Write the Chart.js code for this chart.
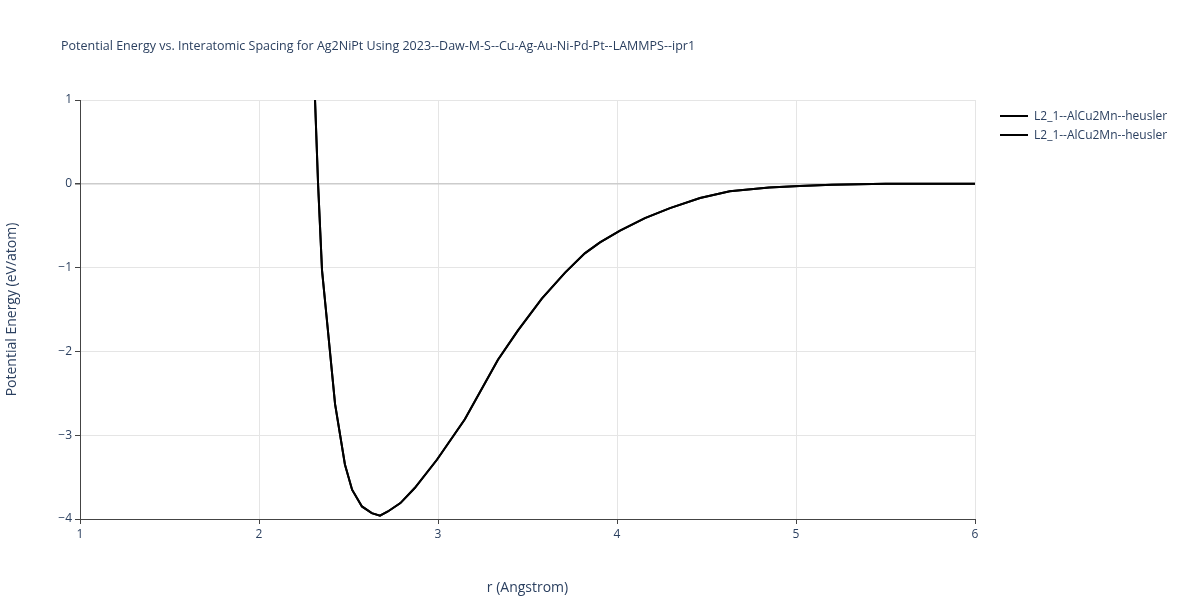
<!DOCTYPE html>
<html>
<head>
<meta charset="utf-8">
<script src="https://cdn.jsdelivr.net/npm/chart.js@4"></script>
<style>
  body { margin: 0; background: #fff; font-family: 'Open Sans', sans-serif; color: #2a3f5f; }
  #wrap { width: 1200px; height: 600px; position: relative; }
  #title { position: absolute; left: 61px; top: 37px; font-size: 12.5px; }
  #legend { position: absolute; left: 1000px; top: 106px; font-size: 12px; }
  .item { display: flex; align-items: center; height: 19px; }
  .sw { width: 28px; height: 2px; background: #000; margin-right: 6px; }
  canvas { position: absolute; left: 0; top: 0; }
</style>
</head>
<body>
<div id="wrap">
  <canvas id="c" width="1200" height="600"></canvas>
  <div id="title">Potential Energy vs. Interatomic Spacing for Ag2NiPt Using 2023--Daw-M-S--Cu-Ag-Au-Ni-Pd-Pt--LAMMPS--ipr1</div>
  <div id="legend"></div>
</div>
<script>
const seriesNames = ['L2_1--AlCu2Mn--heusler', 'L2_1--AlCu2Mn--heusler']
const rValues = [2.313, 2.33, 2.352, 2.38, 2.425, 2.48, 2.52, 2.575, 2.63, 2.676, 2.72, 2.79, 2.87, 2.995, 3.15, 3.335, 3.447, 3.58, 3.71, 3.82, 3.905, 4.017, 4.156, 4.296, 4.464, 4.63, 4.85, 5.02, 5.2, 5.5, 6.0]
const energyValues = [1.0, 0.0, -1.03, -1.64, -2.63, -3.35, -3.65, -3.85, -3.93, -3.96, -3.91, -3.81, -3.63, -3.29, -2.81, -2.10, -1.75, -1.37, -1.06, -0.83, -0.70, -0.56, -0.41, -0.29, -0.17, -0.09, -0.045, -0.025, -0.01, 0.0, 0.0]
const xTicks = [1, 2, 3, 4, 5, 6]
const yTicks = [-4, -3, -2, -1, 0, 1]

const points = rValues.map((r, i) => ({ x: r, y: energyValues[i] }))
const fmt = v => (v < 0 ? '\u2212' + Math.abs(v) : String(v))
const font = { family: 'Open Sans, sans-serif', size: 12 }

document.getElementById('legend').innerHTML = seriesNames
  .map(n => `<div class="item"><div class="sw"></div>${n}</div>`).join('')

new Chart(document.getElementById('c'), {
  type: 'scatter',
  data: {
    datasets: seriesNames.map(name => ({
      label: name,
      data: points,
      showLine: true,
      borderColor: '#000',
      borderWidth: 2,
      pointRadius: 0,
      tension: 0
    }))
  },
  options: {
    responsive: false,
    animation: false,
    layout: { padding: { top: 100, right: 225, left: 0, bottom: 0 } },
    plugins: { legend: { display: false }, tooltip: { enabled: false } },
    scales: {
      x: {
        type: 'linear', min: 1, max: 6,
        afterBuildTicks: a => { a.ticks = xTicks.map(v => ({ value: v })) },
        afterFit: s => { s.height = 81 },
        title: { display: true, text: 'r (Angstrom)', color: '#2a3f5f', font: { family: 'Open Sans, sans-serif', size: 14 }, padding: { top: 14 } },
        ticks: { color: '#2a3f5f', font, maxRotation: 0 },
        grid: { color: '#e5e5e5', tickColor: '#444', tickLength: 5 },
        border: { color: '#444' }
      },
      y: {
        type: 'linear', min: -4, max: 1,
        afterBuildTicks: a => { a.ticks = yTicks.map(v => ({ value: v })) },
        afterFit: s => { s.width = 80 },
        title: { display: true, text: 'Potential Energy (eV/atom)', color: '#2a3f5f', font: { family: 'Open Sans, sans-serif', size: 14 }, padding: { bottom: 14 } },
        ticks: { color: '#2a3f5f', font, callback: v => fmt(v) },
        grid: { color: c => c.tick && c.tick.value === 0 ? '#cccccc' : '#e5e5e5', lineWidth: c => c.tick && c.tick.value === 0 ? 1.5 : 1, tickColor: '#444', tickLength: 5 },
        border: { color: '#444' }
      }
    }
  }
})
</script>
</body>
</html>
